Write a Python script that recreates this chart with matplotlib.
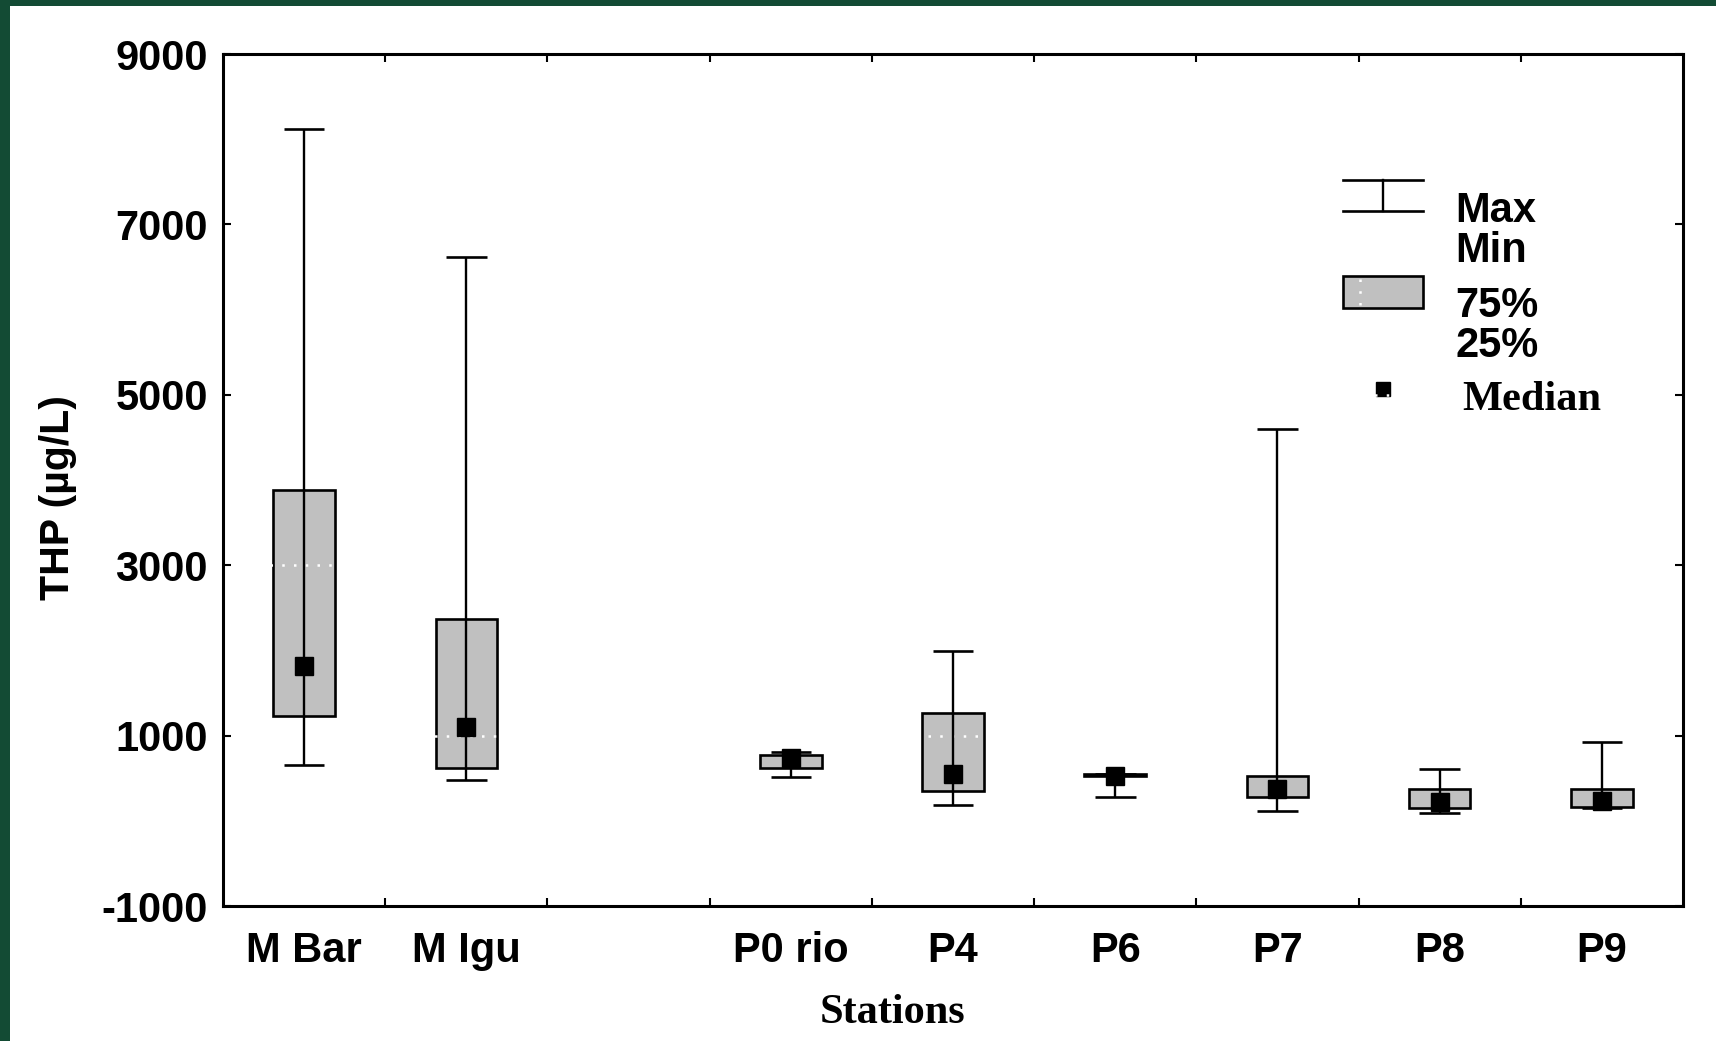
import matplotlib
matplotlib.use("Agg")
import matplotlib.pyplot as plt
from matplotlib.patches import Rectangle
import numpy as np

# THP per station (ug/L)
stations = ["M Bar", "M Igu", "", "P0 rio", "P4", "P6", "P7", "P8", "P9"]
maxs   = [8120, 6620, None, 812, 1995, 555, 4600, 604, 929]
q75    = [3883, 2365, None, 772, 1269, 545, 526, 373, 373]
q25    = [1230, 623, None, 624, 354, 530, 283, 147, 158]
mins   = [655, 475, None, 518, 182, 279, 115, 88, 150]
median = [1817, 1105, None, 737, 553, 522, 370, 224, 236]

yticks = [-1000, 1000, 3000, 5000, 7000, 9000]

sans = "Liberation Sans"
serif = "Liberation Serif"
fs = 30

fig = plt.figure(figsize=(17.16, 10.41), dpi=100)
ax = fig.add_axes([223/1716, 1-906/1041, 1460/1716, 852/1041])

box_w = 0.38
cap_w = 0.25
for i, name in enumerate(stations):
    if maxs[i] is None:
        continue
    ax.add_patch(Rectangle((i - box_w/2, q25[i]), box_w, q75[i] - q25[i],
                           facecolor="#c0c0c0", edgecolor="black", lw=1.9, zorder=2))
    ax.vlines(i, mins[i], maxs[i], color="black", lw=1.7, zorder=3)
    ax.hlines([mins[i], maxs[i]], i - cap_w/2, i + cap_w/2, color="black", lw=1.9, zorder=3)
    ax.plot(i, median[i], "s", color="black", ms=12.6, zorder=4)

ax.set_xlim(-0.5, len(stations) - 0.5)
ax.set_ylim(-1000, 9000)

# labels at centres, tick marks on slot boundaries
ax.set_xticks(range(len(stations)))
ax.set_xticklabels(stations, fontfamily=sans, fontweight="bold", fontsize=fs)
ax.set_xticks(np.arange(0.5, len(stations) - 0.5, 1), minor=True)
ax.tick_params(axis="x", which="major", length=0, pad=18)
ax.tick_params(axis="x", which="minor", direction="in", length=6, width=1.5, top=True)

ax.set_yticks(yticks)
ax.set_yticklabels([str(v) for v in yticks], fontfamily=sans, fontweight="bold", fontsize=fs)
ax.tick_params(axis="y", direction="in", length=6, width=1.5, right=True, pad=11)

# white dotted grid only shows up over the grey boxes
ax.set_axisbelow(False)
ax.yaxis.grid(True, color="white", lw=1.8, linestyle=(0, (1, 3.7)))
for s in ax.spines.values():
    s.set_linewidth(2.2)
    s.set_zorder(5)

# legend, hand drawn like the original
T = ax.transAxes
ax.plot([0.767, 0.822], [0.852, 0.852], color="black", lw=1.9, transform=T, clip_on=False)
ax.plot([0.767, 0.822], [0.816, 0.816], color="black", lw=1.9, transform=T, clip_on=False)
ax.plot([0.7945, 0.7945], [0.816, 0.852], color="black", lw=1.7, transform=T, clip_on=False)
ax.add_patch(Rectangle((0.767, 0.702), 0.055, 0.037, transform=T, facecolor="#c0c0c0",
                       edgecolor="black", lw=1.9, zorder=2, clip_on=False))
ax.plot([0.779, 0.779], [0.705, 0.736], color="white", lw=1.8,
        linestyle=(0, (1, 3.7)), transform=T, zorder=3)
ax.plot(0.7945, 0.607, "s", color="black", ms=10.5, transform=T, clip_on=False)
for txt, yy in [("Max", 0.803), ("Min", 0.756), ("75%", 0.691), ("25%", 0.644)]:
    ax.text(0.844, yy, txt, transform=T, fontfamily=sans, fontweight="bold",
            fontsize=fs, va="baseline", ha="left")
ax.text(0.849, 0.582, "Median", transform=T, fontfamily=serif, fontweight="bold",
        fontsize=30.5, va="baseline", ha="left")

fig.text(58/1716, 1-498/1041, "THP (µg/L)", rotation=90, fontfamily=sans,
         fontweight="bold", fontsize=29.5, ha="center", va="center")
fig.text(892/1716, 1-1023/1041, "Stations", fontfamily=serif, fontweight="bold",
         fontsize=30.5, ha="center", va="baseline")

# dark green frame on left and top edges
green = "#134b34"
fig.patches.append(Rectangle((0, 0), 10/1716, 1, transform=fig.transFigure,
                             facecolor=green, edgecolor="none"))
fig.patches.append(Rectangle((0, 1-6/1041), 1, 6/1041, transform=fig.transFigure,
                             facecolor=green, edgecolor="none"))

fig.savefig("out.png", dpi=100)
